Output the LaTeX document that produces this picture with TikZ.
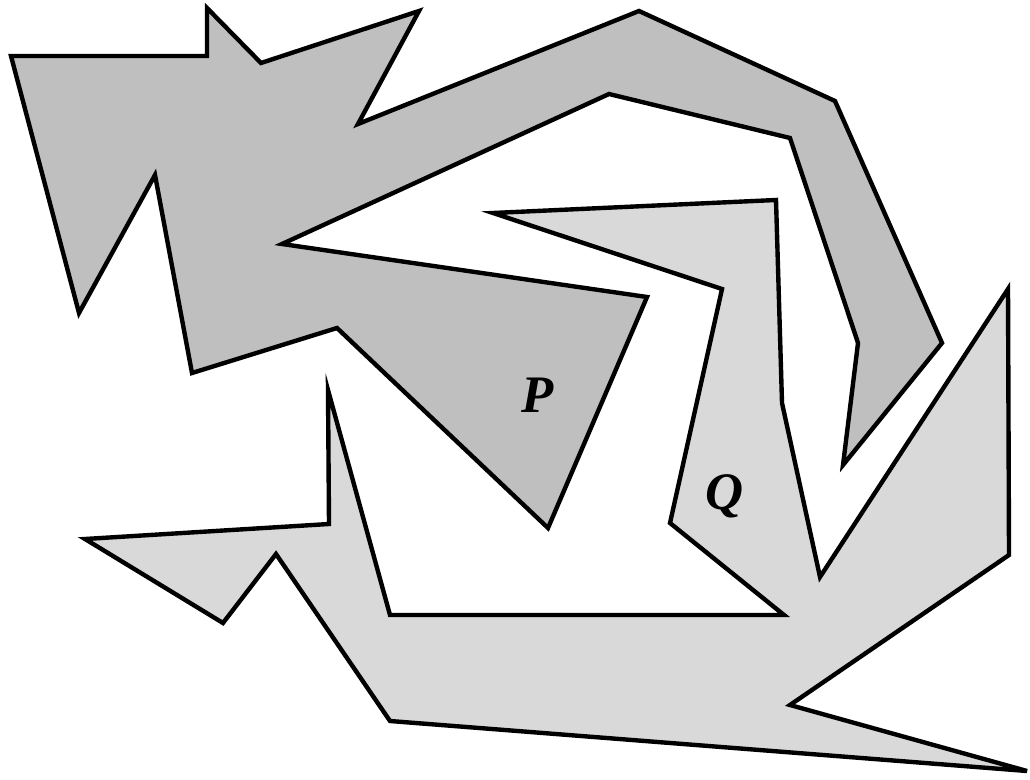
\documentclass[tikz,border=0pt]{standalone}
\usepackage{fontspec}
\setmainfont{Liberation Serif}
\usepackage{tikz}
\definecolor{grayP}{HTML}{BFBFBF}
\definecolor{grayQ}{HTML}{D9D9D9}
\begin{document}
\begin{tikzpicture}[x=0.02cm,y=-0.02cm,
    poly/.style={draw=black,line width=2.5pt,line join=miter},
    lab/.style={font=\fontsize{30}{30}\selectfont\bfseries\itshape,inner sep=0pt}]
        \useasboundingbox (0,0) rectangle (1030,780);
        \draw[poly,fill=grayP] (11,56) -- (207,56) -- (207,8) -- (261,63) -- (419,11)
          -- (358,124) -- (639,11) -- (835,101) -- (942,343) -- (843,465)
          -- (858,343) -- (790,138) -- (609,94) -- (282,244) -- (647,297)
          -- (548,528) -- (337,328) -- (192,373) -- (155,175) -- (79,313) -- cycle;
        \draw[poly,fill=grayQ] (493,213) -- (776,200) -- (782,403) -- (820,577)
          -- (1008,289) -- (1009,555) -- (790,705) -- (1027,771) -- (390,721)
          -- (276,554) -- (223,623) -- (85,539) -- (329,524) -- (328,390)
          -- (390,615) -- (784,615) -- (670,523) -- (722,289) -- cycle;
        \node[lab] (p) at (538,395) {P};
        \node[lab] (q) at (725,496) {Q};
      \end{tikzpicture}
\end{document}
